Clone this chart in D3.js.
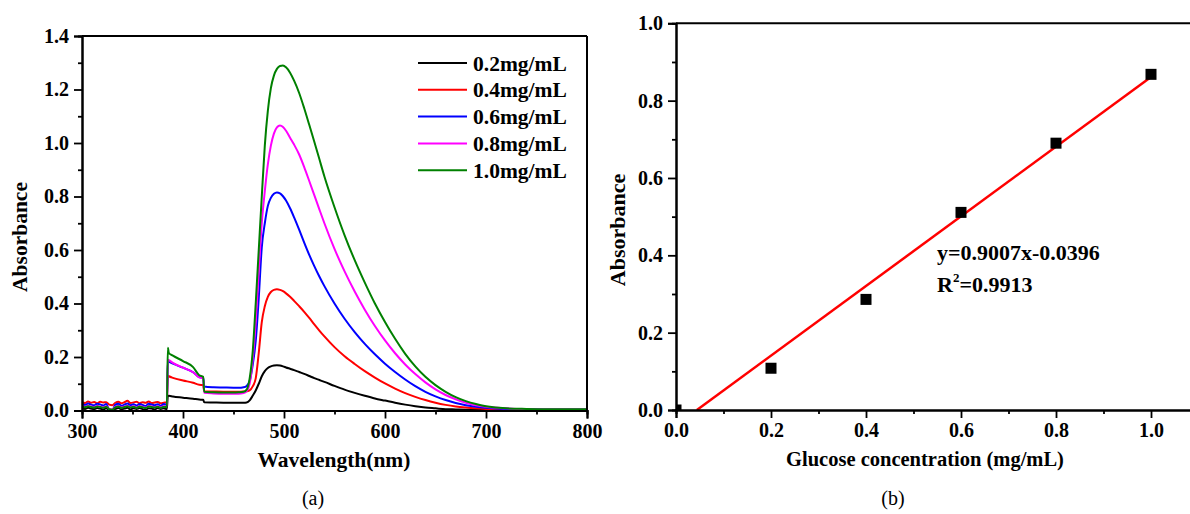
<!DOCTYPE html>
<html><head><meta charset="utf-8">
<script src="https://cdn.jsdelivr.net/npm/d3@7"></script>
<style>body{margin:0;background:#fff}svg{display:block}text{font-family:"Liberation Serif","Times New Roman",serif}</style>
</head><body><svg id="c" width="1190" height="514"></svg>
<script>
// ---------- Panel (a): UV-Vis spectra ----------
const wavelengths = [300,303,306,309,312,315,318,321,324,327,330,333,336,339,342,345,348,351,354,357,360,363,366,369,372,375,378,381,384,
  385,386,390,400,410,416,420,421,
  430,440,450,455,460,463,466,
  469,472,475,478,481,484,487,490,493,496,499,502,
  506,510,515,520,525,530,535,540,
  550,560,570,580,590,600,610,620,630,640,650,660,670,680,690,700,
  720,740,760,780,800];
const abs02 = [0.008,0.006,0.010,0.007,0.005,0.009,0.007,0.004,0.008,0.002,0.001,0.006,0.009,0.005,0.007,0.010,0.004,0.008,0.006,0.009,0.005,0.003,0.008,0.007,0.004,0.009,0.006,0.008,0.005,
  0.055,0.055,0.052,0.048,0.044,0.041,0.040,0.031,
  0.030,0.029,0.029,0.029,0.029,0.030,0.038,
  0.055,0.075,0.100,0.128,0.147,0.159,0.165,0.168,0.169,0.168,0.165,0.161,
  0.156,0.151,0.144,0.137,0.129,0.121,0.114,0.107,
  0.092,0.078,0.066,0.055,0.045,0.037,0.029,0.022,0.016,0.011,0.008,0.005,0.004,0.003,0.003,0.002,
  0.002,0.002,0.002,0.002,0.002];
const abs04 = [0.031,0.028,0.034,0.029,0.032,0.027,0.033,0.030,0.031,0.022,0.020,0.029,0.033,0.027,0.031,0.036,0.028,0.030,0.033,0.027,0.031,0.029,0.034,0.028,0.030,0.032,0.027,0.029,0.031,
  0.130,0.128,0.122,0.112,0.104,0.096,0.095,0.072,
  0.071,0.070,0.070,0.070,0.071,0.072,0.075,
  0.090,0.120,0.215,0.330,0.390,0.425,0.443,0.451,0.453,0.451,0.446,0.438,
  0.425,0.410,0.390,0.369,0.346,0.322,0.299,0.277,
  0.237,0.203,0.174,0.147,0.123,0.101,0.082,0.065,0.051,0.039,0.029,0.021,0.015,0.011,0.008,0.006,
  0.004,0.003,0.003,0.003,0.003];
const abs06 = [0.024,0.021,0.026,0.022,0.020,0.025,0.023,0.019,0.024,0.003,0.002,0.021,0.025,0.018,0.022,0.026,0.020,0.023,0.019,0.024,0.021,0.017,0.025,0.022,0.020,0.023,0.018,0.024,0.021,
  0.185,0.183,0.175,0.160,0.143,0.125,0.122,0.090,
  0.087,0.086,0.085,0.085,0.087,0.092,0.110,
  0.170,0.260,0.420,0.610,0.700,0.765,0.795,0.810,0.815,0.812,0.801,0.785,
  0.756,0.722,0.676,0.628,0.582,0.540,0.501,0.465,
  0.400,0.343,0.293,0.249,0.210,0.175,0.144,0.116,0.091,0.070,0.053,0.039,0.028,0.020,0.014,0.010,
  0.006,0.005,0.004,0.004,0.004];
const abs08 = [0.016,0.014,0.018,0.015,0.013,0.017,0.015,0.012,0.016,0.006,0.004,0.014,0.017,0.012,0.015,0.018,0.013,0.016,0.012,0.017,0.014,0.011,0.017,0.015,0.013,0.016,0.012,0.016,0.014,
  0.190,0.188,0.178,0.160,0.143,0.124,0.120,0.066,
  0.064,0.063,0.063,0.063,0.065,0.072,0.100,
  0.190,0.330,0.520,0.700,0.820,0.920,0.990,1.035,1.058,1.065,1.060,1.046,
  1.020,0.994,0.957,0.910,0.858,0.805,0.752,0.700,
  0.604,0.520,0.445,0.377,0.316,0.262,0.214,0.172,0.136,0.105,0.079,0.058,0.042,0.029,0.020,0.014,
  0.008,0.005,0.004,0.004,0.004];
const abs10 = [0.014,0.012,0.016,0.013,0.011,0.015,0.013,0.010,0.014,0.005,0.003,0.012,0.015,0.010,0.013,0.016,0.011,0.014,0.010,0.015,0.012,0.009,0.015,0.013,0.011,0.014,0.010,0.014,0.012,
  0.235,0.215,0.205,0.185,0.162,0.132,0.126,0.070,
  0.068,0.067,0.067,0.068,0.070,0.078,0.120,
  0.220,0.400,0.600,0.800,0.990,1.120,1.205,1.252,1.277,1.288,1.290,1.283,
  1.263,1.233,1.187,1.130,1.068,1.005,0.940,0.875,
  0.760,0.655,0.562,0.478,0.400,0.331,0.268,0.212,0.165,0.126,0.095,0.070,0.050,0.035,0.024,0.016,
  0.008,0.006,0.005,0.005,0.005];
const seriesLabels = ["0.2mg/mL","0.4mg/mL","0.6mg/mL","0.8mg/mL","1.0mg/mL"];
const seriesColors = ["#000000","#ff0000","#0000ff","#ff00ff","#008000"];
const spectraXTicks = [300,400,500,600,700,800];
const spectraXMinor = [350,450,550,650,750];
const spectraYTicks = [0,0.2,0.4,0.6,0.8,1.0,1.2,1.4];
const spectraYMinor = [0.1,0.3,0.5,0.7,0.9,1.1,1.3];

// ---------- Panel (b): calibration ----------
const concentrations = [0,0.2,0.4,0.6,0.8,1.0];
const calibAbs = [0,0.108,0.286,0.511,0.69,0.868];
const fitSlope = 0.9007, fitIntercept = -0.0396;
const calibXTicks = [0,0.2,0.4,0.6,0.8,1.0];
const calibXMinor = [0.1,0.3,0.5,0.7,0.9];
const calibYTicks = [0,0.2,0.4,0.6,0.8,1.0];
const calibYMinor = [0.1,0.3,0.5,0.7,0.9];

const svg = d3.select("#c");
const FS = 20;

function styleAxis(g){
  g.select(".domain").attr("stroke","#000").attr("stroke-width",2);
  g.selectAll(".tick line").attr("stroke","#000").attr("stroke-width",1.8);
  g.selectAll("text").attr("font-size",FS).attr("font-weight","bold").attr("fill","#000")
    .attr("font-family",'"Liberation Serif","Times New Roman",serif');
}

// ===== Panel (a) =====
const xa = d3.scaleLinear().domain([300,800]).range([82,587]);
const ya = d3.scaleLinear().domain([0,1.4]).range([410.5,36]);
const ga = svg.append("g");
const seriesA = [abs02,abs04,abs06,abs08,abs10];
const lineA = d3.line().x((d,i)=>xa(wavelengths[i])).y(d=>ya(d)).curve(d3.curveMonotoneX);
seriesA.forEach((s,k)=>{
  ga.append("path").datum(s).attr("d",lineA).attr("fill","none")
    .attr("stroke",seriesColors[k]).attr("stroke-width",2).attr("stroke-linejoin","round");
});
ga.append("line").attr("x1",xa(300)).attr("x2",xa(800)).attr("y1",ya(1.4)).attr("y2",ya(1.4)).attr("stroke","#000").attr("stroke-width",2);
ga.append("line").attr("x1",xa(800)).attr("x2",xa(800)).attr("y1",ya(1.4)).attr("y2",ya(0)).attr("stroke","#000").attr("stroke-width",2);
ga.append("g").attr("transform",`translate(0,${ya(0)})`)
  .call(d3.axisBottom(xa).tickValues(spectraXMinor).tickSize(4).tickFormat("")).call(styleAxis);
ga.append("g").attr("transform",`translate(0,${ya(0)})`)
  .call(d3.axisBottom(xa).tickValues(spectraXTicks).tickSize(8).tickPadding(5).tickFormat(d3.format("d"))).call(styleAxis);
ga.append("g").attr("transform",`translate(${xa(300)},0)`)
  .call(d3.axisLeft(ya).tickValues(spectraYMinor).tickSize(4).tickFormat("")).call(styleAxis);
ga.append("g").attr("transform",`translate(${xa(300)},0)`)
  .call(d3.axisLeft(ya).tickValues(spectraYTicks).tickSize(8).tickPadding(5).tickFormat(d3.format(".1f"))).call(styleAxis);
ga.append("text").attr("x",334).attr("y",467).attr("text-anchor","middle")
  .attr("font-size",21.5).attr("font-weight","bold").text("Wavelength(nm)");
ga.append("text").attr("transform",`translate(27,237) rotate(-90)`).attr("text-anchor","middle")
  .attr("font-size",21.5).attr("font-weight","bold").text("Absorbance");
seriesLabels.forEach((lab,k)=>{
  const y = 63 + k*26.8;
  ga.append("line").attr("x1",418).attr("x2",467).attr("y1",y).attr("y2",y).attr("stroke",seriesColors[k]).attr("stroke-width",2);
  ga.append("text").attr("x",473).attr("y",y+7.5).attr("font-size",21.5).attr("font-weight","bold").text(lab);
});
svg.append("text").attr("x",313).attr("y",505).attr("text-anchor","middle").attr("font-size",FS).text("(a)");

// ===== Panel (b) =====
const xb = d3.scaleLinear().domain([0,1.09]).range([676,676+475*1.09]);
const yb = d3.scaleLinear().domain([0,1.0]).range([410,23.3]);
const gb = svg.append("g");
svg.append("defs").append("clipPath").attr("id","clipb").append("rect")
  .attr("x",xb(0)).attr("y",yb(1)).attr("width",xb(1.09)-xb(0)).attr("height",yb(0)-yb(1));
const x0 = -fitIntercept/fitSlope;
gb.append("line").attr("clip-path","url(#clipb)")
  .attr("x1",xb(x0)).attr("y1",yb(fitSlope*x0+fitIntercept))
  .attr("x2",xb(1.0)).attr("y2",yb(fitSlope*1.0+fitIntercept))
  .attr("stroke","#ff0000").attr("stroke-width",2.5);
const ms = 11;
gb.append("g").attr("clip-path","url(#clipb)").selectAll("rect").data(concentrations).join("rect")
  .attr("x",(d)=>xb(d)-ms/2).attr("y",(d,i)=>yb(calibAbs[i])-ms/2).attr("width",ms).attr("height",ms).attr("fill","#000");
gb.append("line").attr("x1",xb(0)).attr("x2",xb(1.09)).attr("y1",yb(1)).attr("y2",yb(1)).attr("stroke","#000").attr("stroke-width",2);
gb.append("g").attr("transform",`translate(0,${yb(0)})`)
  .call(d3.axisBottom(xb).tickValues(calibXMinor).tickSize(4).tickFormat("")).call(styleAxis);
gb.append("g").attr("transform",`translate(0,${yb(0)})`)
  .call(d3.axisBottom(xb).tickValues(calibXTicks).tickSize(8).tickPadding(5).tickFormat(d3.format(".1f"))).call(styleAxis);
gb.append("g").attr("transform",`translate(${xb(0)},0)`)
  .call(d3.axisLeft(yb).tickValues(calibYMinor).tickSize(4).tickFormat("")).call(styleAxis);
gb.append("g").attr("transform",`translate(${xb(0)},0)`)
  .call(d3.axisLeft(yb).tickValues(calibYTicks).tickSize(8).tickPadding(5).tickFormat(d3.format(".1f"))).call(styleAxis);
gb.append("text").attr("x",925).attr("y",466).attr("text-anchor","middle")
  .attr("font-size",20.5).attr("font-weight","bold").text("Glucose concentration (mg/mL)");
gb.append("text").attr("transform",`translate(625,230) rotate(-90)`).attr("text-anchor","middle")
  .attr("font-size",22).attr("font-weight","bold").text("Absorbance");
gb.append("text").attr("x",937).attr("y",260).attr("font-size",22).attr("font-weight","bold")
  .text(`y=${fitSlope}x-${Math.abs(fitIntercept)}`);
const r2 = gb.append("text").attr("x",937).attr("y",292).attr("font-size",22).attr("font-weight","bold");
r2.append("tspan").text("R");
r2.append("tspan").attr("font-size",13).attr("dy",-10).text("2");
r2.append("tspan").attr("dy",10).text("=0.9913");
svg.append("text").attr("x",893).attr("y",505).attr("text-anchor","middle").attr("font-size",FS).text("(b)");
</script></body></html>
